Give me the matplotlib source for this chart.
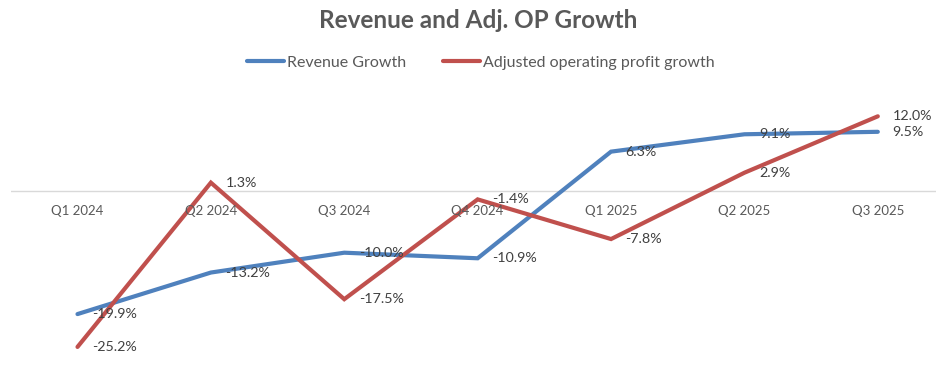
import numpy as np
import matplotlib.pyplot as plt

plt.rcParams['font.family'] = ['Lato', 'DejaVu Sans']

# 数据
quarters = ['Q1 2024', 'Q2 2024', 'Q3 2024', 'Q4 2024', 'Q1 2025', 'Q2 2025', 'Q3 2025']
revenue_growth = [-19.9, -13.2, -10.0, -10.9, 6.3, 9.1, 9.5]
op_growth = [-25.2, 1.3, -17.5, -1.4, -7.8, 2.9, 12.0]

blue = '#4F81BD'
red = '#C0504D'
grey = '#595959'

W, H = 937, 378
fig = plt.figure(figsize=(W / 100, H / 100), dpi=100)
# 绘图区位置（像素换算）
left, right = 10.8, 944.5
top, bottom = 97.7, 376.7
ax = fig.add_axes([left / W, 1 - bottom / H, (right - left) / W, (bottom - top) / H])

x = np.arange(len(quarters))
ax.plot(x, revenue_growth, color=blue, lw=3, solid_capstyle='round', solid_joinstyle='miter',
        label='Revenue Growth', clip_on=False, zorder=3)
ax.plot(x, op_growth, color=red, lw=3, solid_capstyle='round', solid_joinstyle='miter',
        label='Adjusted operating profit growth', clip_on=False, zorder=3)

# 数据标签
for xi, v in zip(x, revenue_growth):
    ax.annotate(f'{v:.1f}%', (xi, v), xytext=(10.5, 0), textcoords='offset points',
                va='center', ha='left', fontsize=10.3, color='#404040', zorder=4)
for xi, v in zip(x, op_growth):
    ax.annotate(f'{v:.1f}%', (xi, v), xytext=(10.5, 0), textcoords='offset points',
                va='center', ha='left', fontsize=10.3, color='#404040', zorder=4)

ax.set_xlim(-0.5, 6.5)
ax.set_ylim(-30, 15)
ax.axhline(0, color='#D9D9D9', lw=1, zorder=1)
for s in ax.spines.values():
    s.set_visible(False)
ax.set_yticks([])
ax.set_xticks([])

# 类别标签贴着零线
for xi, q in zip(x, quarters):
    ax.text(xi, -3.3, q, ha='center', va='center', fontsize=9.5, color=grey)

fig.text(0.51, 1 - 21 / H, 'Revenue and Adj. OP Growth', ha='center', va='center',
         fontsize=17.5, fontweight='bold', color=grey)
fig.legend(loc='center', bbox_to_anchor=(0.513, 1 - 63 / H), ncol=2, frameon=False,
           fontsize=11.5, labelcolor=grey, handlelength=2.3, handletextpad=0.2,
           columnspacing=2.3)

fig.savefig('out.png', dpi=100)
